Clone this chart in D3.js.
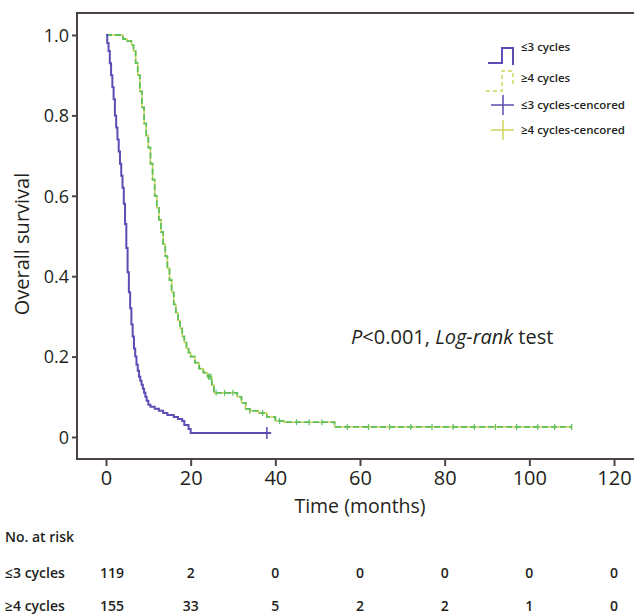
<!DOCTYPE html>
<html>
<head>
<meta charset="utf-8">
<script src="https://cdn.jsdelivr.net/npm/d3@7"></script>
<style>
  body { margin: 0; background: #fff; }
  svg { display: block; font-family: "Open Sans", "Noto Sans", sans-serif; }
</style>
</head>
<body>
<svg id="chart" width="634" height="616"></svg>
<script>
// KM steps: [month, survival]
const low = [[0,1.0],[0.3,0.98],[0.6,0.96],[0.9,0.93],[1.2,0.9],[1.5,0.87],[1.8,0.84],[2.1,0.8],
  [2.4,0.77],[2.7,0.74],[3.0,0.71],[3.3,0.68],[3.6,0.65],[3.9,0.62],[4.2,0.58],[4.5,0.53],[4.8,0.47],
  [5.1,0.41],[5.4,0.36],[5.7,0.32],[6.0,0.28],[6.3,0.25],[6.6,0.22],[6.9,0.2],[7.2,0.18],[7.5,0.165],
  [7.8,0.15],[8.1,0.14],[8.4,0.13],[8.7,0.12],[9.0,0.11],[9.3,0.1],[9.6,0.09],[10,0.08],[10.5,0.075],
  [11.5,0.07],[12.5,0.065],[13.5,0.06],[14.5,0.055],[16,0.05],[17,0.045],[18,0.04],[18.5,0.03],
  [19.5,0.02],[20,0.01],[39,0.01]];
const high = [[0,1.0],[4,0.99],[5,0.985],[6,0.975],[6.5,0.96],[7,0.93],[7.5,0.9],[8,0.86],[8.5,0.82],
  [9,0.78],[9.5,0.75],[10,0.72],[10.5,0.68],[11,0.64],[11.5,0.6],[12,0.57],[12.5,0.54],[13,0.51],
  [13.5,0.48],[14,0.45],[14.5,0.42],[15,0.39],[15.5,0.36],[16,0.33],[16.5,0.31],[17,0.29],[17.5,0.27],
  [18,0.25],[18.5,0.235],[19,0.22],[19.5,0.21],[20,0.2],[21,0.185],[22,0.17],[23,0.16],[24,0.15],
  [25,0.13],[25.5,0.11],[31,0.1],[32,0.085],[33,0.07],[34,0.065],[36,0.06],[38,0.05],[40,0.04],
  [42,0.037],[54,0.025],[110,0.025]];
const lowCensor = [38];
const highCensor = [24.2, 24.5, 24.8, 26, 28, 30, 34, 37, 41, 45, 48, 51, 57, 62, 67, 72, 77, 82, 87, 92, 97, 102, 106, 110];

const xTicks = [0, 20, 40, 60, 80, 100, 120];
const yTicks = [0, 0.2, 0.4, 0.6, 0.8, 1.0];
const groups = ["\u22643 cycles", "\u22654 cycles"];
const atRiskLow = [119, 2, 0, 0, 0, 0, 0];
const atRiskHigh = [155, 33, 5, 2, 2, 1, 0];
const legendLabels = ["\u22643 cycles", "\u22654 cycles", "\u22643 cycles-cencored", "\u22654 cycles-cencored"];

const blue = "#5a4db3", green = "#5cc05c", yellow = "#cfd35a", ink = "#231f20", frame = "#4d4545";

var svg = d3.select('#chart');
var x = d3.scaleLinear().domain([0, 120]).range([106, 614]);
var y = d3.scaleLinear().domain([0, 1]).range([437, 35]);

// frame: left, top, bottom
svg.append('path')
    .attr('d', 'M634,13H77V459H634')
    .attr('fill', 'none')
    .attr('stroke', frame)
    .attr('stroke-width', 2);

// axes
var yAxis = svg.append('g').attr('transform', 'translate(77,0)')
    .call(d3.axisLeft(y).tickValues(yTicks).tickSize(5)
        .tickFormat(d => d === 0 ? '0' : d.toFixed(1)));
var xAxis = svg.append('g').attr('transform', 'translate(0,459)')
    .call(d3.axisBottom(x).tickValues(xTicks).tickSize(7));
[xAxis, yAxis].forEach(function(a) {
    a.select('.domain').remove();
    a.selectAll('line').attr('stroke', frame).attr('stroke-width', 2);
    a.selectAll('text').attr('fill', ink)
        .style('font-family', '"Open Sans", sans-serif').style('font-weight', 500);
});
yAxis.selectAll('text').attr('x', -8).attr('dy', '0.35em').style('font-size', '18px');
xAxis.selectAll('text').attr('y', 12).style('font-size', '20px');

svg.append('text')
    .attr('x', x(60)).attr('y', 513)
    .attr('text-anchor', 'middle')
    .attr('fill', ink).style('font-size', '19.5px').style('font-weight', 500)
    .text('Time (months)');
svg.append('text')
    .attr('transform', 'translate(29,244) rotate(-90)')
    .attr('text-anchor', 'middle')
    .attr('fill', ink).style('font-size', '20px').style('font-weight', 500)
    .text('Overall survival');

// curves
var line = d3.line().x(d => x(d[0])).y(d => y(d[1])).curve(d3.curveStepAfter);
svg.append('path').datum(high).attr('d', line)
    .attr('fill', 'none').attr('stroke', yellow).attr('stroke-width', 1.5);
svg.append('path').datum(high).attr('d', line)
    .attr('fill', 'none').attr('stroke', green).attr('stroke-width', 1.8)
    .attr('stroke-dasharray', '6,3');
svg.append('path').datum(low).attr('d', line)
    .attr('fill', 'none').attr('stroke', blue).attr('stroke-width', 2);

// censor ticks
function survAt(data, t) {
    let s = data[0][1];
    data.forEach(d => { if (d[0] <= t) s = d[1]; });
    return s;
}
svg.selectAll('.cl').data(lowCensor).enter().append('line')
    .attr('x1', d => x(d)).attr('x2', d => x(d))
    .attr('y1', d => y(survAt(low, d)) - 6).attr('y2', d => y(survAt(low, d)) + 6)
    .attr('stroke', blue).attr('stroke-width', 1.5);
svg.selectAll('.ch').data(highCensor).enter().append('line')
    .attr('x1', d => x(d)).attr('x2', d => x(d))
    .attr('y1', d => y(survAt(high, d)) - 3).attr('y2', d => y(survAt(high, d)) + 3)
    .attr('stroke', green).attr('stroke-width', 1.2);

// p-value note
var note = svg.append('text')
    .attr('x', 351).attr('y', 344)
    .attr('fill', ink).style('font-size', '20px').style('font-weight', 500);
note.append('tspan').style('font-style', 'italic').text('P');
note.append('tspan').text('<0.001, ');
note.append('tspan').style('font-style', 'italic').text('Log-rank');
note.append('tspan').text(' test');

// legend
var lg = svg.append('g');
lg.append('path').attr('d', 'M488,63H502V48H513V65')
    .attr('fill', 'none').attr('stroke', blue).attr('stroke-width', 2);
lg.append('path').attr('d', 'M486,91H502V71H513V86')
    .attr('fill', 'none').attr('stroke', yellow).attr('stroke-width', 1.5)
    .attr('stroke-dasharray', '4,3');
[[blue, 105], [yellow, 130]].forEach(function(p) {
    lg.append('path').attr('d', 'M491,' + p[1] + 'H514M503,' + (p[1] - 10) + 'V' + (p[1] + 10))
        .attr('stroke', p[0]).attr('stroke-width', 1.5);
});
lg.selectAll('text').data(legendLabels).enter().append('text')
    .attr('x', 521).attr('y', (d, i) => [51, 82, 109, 134][i])
    .attr('fill', ink).style('font-size', '11.5px').style('font-weight', 600)
    .text(d => d);

// number at risk table
svg.append('text').attr('x', 5).attr('y', 542)
    .attr('fill', ink).style('font-size', '14px').style('font-weight', 600).text('No. at risk');
[atRiskLow, atRiskHigh].forEach(function(row, r) {
    var yy = [578, 611][r];
    svg.append('text').attr('x', 5).attr('y', yy)
        .attr('fill', ink).style('font-size', '14px').style('font-weight', 600).text(groups[r]);
    svg.selectAll('.r' + r).data(row).enter().append('text')
        .attr('x', (d, i) => x(xTicks[i]) + (i === 0 ? 6 : 0))
        .attr('y', yy)
        .attr('text-anchor', 'middle')
        .attr('fill', ink).style('font-size', '14px').style('font-weight', 600)
        .text(d => d);
});
</script>
</body>
</html>
